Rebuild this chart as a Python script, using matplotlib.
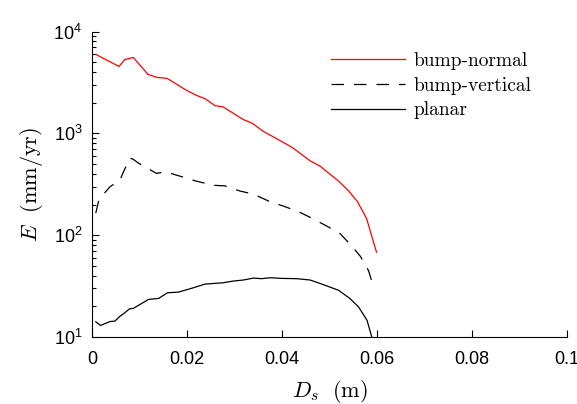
import matplotlib
matplotlib.use("Agg")
import matplotlib.pyplot as plt
from matplotlib.ticker import LogLocator, NullFormatter

plt.rcParams['mathtext.fontset'] = 'cm'
plt.rcParams['font.family'] = ['Liberation Sans', 'DejaVu Sans']

# bump-normal (red)
x_normal = [0.0008, 0.0057, 0.0069, 0.0087, 0.0118, 0.0137, 0.0158, 0.0200, 0.0221,
            0.0238, 0.0259, 0.0276, 0.0318, 0.0337, 0.0360, 0.0375, 0.0410, 0.0424,
            0.0459, 0.0480, 0.0519, 0.0540, 0.0559, 0.0578, 0.0599]
e_normal = [5960, 4540, 5300, 5560, 3790, 3540, 3470, 2630, 2350,
            2190, 1870, 1820, 1370, 1260, 1050, 962, 780, 713,
            538, 477, 340, 273, 213, 146, 68]

# bump-vertical (dashed)
x_vertical = [0.0008, 0.0015, 0.0038, 0.0059, 0.0066, 0.0080, 0.0087, 0.0097, 0.0136,
              0.0154, 0.0185, 0.0217, 0.0255, 0.0280, 0.0312, 0.0340, 0.0375, 0.0403,
              0.0435, 0.0464, 0.0494, 0.0522, 0.0546, 0.0565, 0.0582, 0.0591]
e_vertical = [165, 226, 299, 348, 417, 571, 556, 513, 404,
              420, 380, 342, 309, 305, 271, 253, 213, 193,
              170, 146, 123, 104, 79, 62, 45, 33]

# planar (solid black)
x_planar = [0.0008, 0.0018, 0.0038, 0.0048, 0.0059, 0.0069, 0.0079, 0.0087, 0.0119,
            0.0140, 0.0159, 0.0182, 0.0213, 0.0238, 0.0276, 0.0297, 0.0319, 0.0340,
            0.0357, 0.0375, 0.0403, 0.0431, 0.0459, 0.0480, 0.0519, 0.0543, 0.0561,
            0.0579, 0.0589, 0.0592]
e_planar = [14.1, 13.0, 14.2, 14.3, 16.0, 17.3, 18.9, 19.1, 23.4,
            23.9, 27.2, 27.6, 30.4, 33.1, 34.1, 35.4, 36.3, 37.9,
            37.4, 38.2, 37.6, 37.4, 36.3, 33.6, 28.8, 23.9, 19.8,
            14.6, 10.0, 9.0]

fig = plt.figure(figsize=(5.77, 4.04), dpi=100)
ax = fig.add_axes([0.1594, 0.1658, 0.8233, 0.7562])

ax.plot(x_normal, e_normal, color='#ff0000', lw=0.9, label='bump-normal')
ax.plot(x_vertical, e_vertical, color='black', lw=0.9, dashes=(10, 8), label='bump-vertical')
ax.plot(x_planar, e_planar, color='black', lw=0.9, label='planar')

ax.set_yscale('log')
ax.set_xlim(0, 0.1)
ax.set_ylim(10, 1e4)
ax.set_xticks([0, 0.02, 0.04, 0.06, 0.08, 0.1])
ax.set_xticklabels(['0', '0.02', '0.04', '0.06', '0.08', '0.1'])
ax.yaxis.set_minor_locator(LogLocator(base=10, subs=range(2, 10)))
ax.yaxis.set_minor_formatter(NullFormatter())
ax.tick_params(axis='both', which='both', direction='in', labelsize=13)
ax.tick_params(axis='both', which='major', length=5, width=0.8)
ax.tick_params(axis='x', which='major', pad=10)
ax.tick_params(axis='y', which='major', pad=7)
ax.tick_params(axis='y', which='minor', length=3, width=0.8)
ax.spines['top'].set_visible(False)
ax.spines['right'].set_visible(False)

ax.set_xlabel(r'$D_s\ \ (\mathrm{m})$', fontsize=16, labelpad=7)
ax.set_ylabel(r'$E\ \ (\mathrm{mm/yr})$', fontsize=16, labelpad=6)

leg = ax.legend(loc='upper left', frameon=False, prop={'family': 'cmr10', 'size': 14},
                handlelength=3.8, handletextpad=0.45, labelspacing=0.34,
                borderpad=0, borderaxespad=0,
                bbox_to_anchor=(0.503, 0.932))

fig.savefig('out.png', dpi=100)
